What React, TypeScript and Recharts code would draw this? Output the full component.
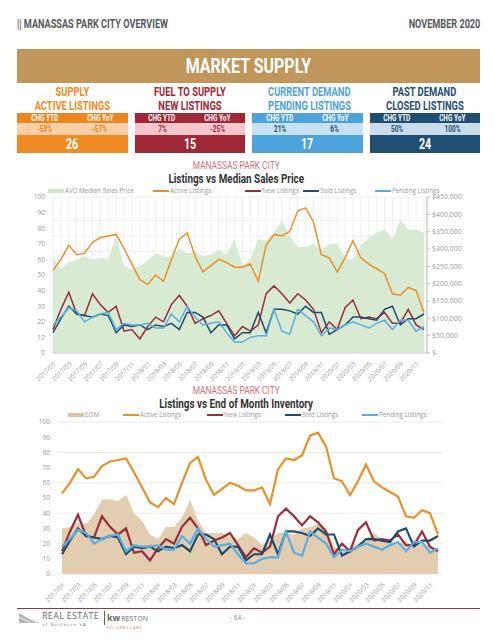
import { ComposedChart, Area, Line, XAxis, YAxis, CartesianGrid } from 'recharts';
import type { ReactNode } from 'react';

const months = [
  '2017/01', '2017/02', '2017/03', '2017/04', '2017/05', '2017/06', '2017/07', '2017/08', '2017/09', '2017/10', '2017/11', '2017/12',
  '2018/01', '2018/02', '2018/03', '2018/04', '2018/05', '2018/06', '2018/07', '2018/08', '2018/09', '2018/10', '2018/11', '2018/12',
  '2019/01', '2019/02', '2019/03', '2019/04', '2019/05', '2019/06', '2019/07', '2019/08', '2019/09', '2019/10', '2019/11', '2019/12',
  '2020/01', '2020/02', '2020/03', '2020/04', '2020/05', '2020/06', '2020/07', '2020/08', '2020/09', '2020/10', '2020/11', '2020/12',
];

const activeListings = [53, 60, 69, 63, 64, 71, 74, 75, 76, 67, 57, 47, 44, 50, 46, 60, 73, 77, 62, 52, 56, 60, 58, 55, 55, 57, 46, 69, 76, 75, 78, 91, 93, 84, 63, 61, 52, 61, 72, 61, 57, 54, 51, 38, 37, 42, 40, 26];
const newListings = [15, 28, 39, 25, 24, 38, 31, 26, 30, 14, 15, 9, 17, 23, 20, 31, 37, 30, 19, 22, 24, 27, 19, 11, 17, 14, 18, 38, 43, 38, 32, 38, 34, 28, 13, 20, 15, 29, 34, 22, 23, 22, 26, 19, 19, 28, 18, 15];
const soldListings = [13, 22, 30, 25, 24, 23, 25, 24, 13, 18, 17, 18, 15, 18, 17, 19, 15, 26, 26, 23, 13, 18, 18, 9, 13, 13, 26, 13, 28, 28, 27, 25, 30, 26, 26, 12, 15, 18, 23, 23, 22, 21, 28, 30, 18, 22, 22, 25];
const pendingListings = [18, 23, 29, 27, 20, 23, 25, 26, 15, 19, 18, 18, 19, 16, 16, 25, 20, 30, 23, 18, 19, 20, 13, 7, 7, 10, 11, 11, 28, 14, 12, 28, 24, 20, 11, 16, 15, 18, 20, 18, 16, 19, 21, 15, 21, 21, 14, 17];
const medianPrice = [
  275000, 243000, 261000, 270000, 279000, 270000, 275000, 270000, 338000, 252000, 239000, 252000,
  266000, 288000, 279000, 275000, 302000, 288000, 293000, 279000, 284000, 297000, 284000, 329000,
  252000, 270000, 329000, 324000, 347000, 383000, 338000, 306000, 306000, 315000, 297000, 315000,
  315000, 275000, 270000, 311000, 333000, 347000, 356000, 329000, 383000, 356000, 356000, 347000,
];
const eomInventory = [30, 31, 34, 33, 39, 49, 49, 48, 52, 40, 35, 26, 23, 31, 31, 37, 49, 35, 27, 27, 27, 25, 23, 27, 24, 19, 22, 27, 27, 26, 30, 31, 33, 30, 18, 16, 17, 20, 23, 27, 23, 21, 20, 22, 17, 21, 18, 16];

const leftTicks1 = [0, 5, 10, 15, 20, 25, 30, 35, 40, 45, 50, 55, 60, 65, 70, 75, 80, 85, 90, 95, 100];
const leftTicks2 = [0, 10, 20, 30, 40, 50, 60, 70, 80, 90, 100];
const priceTicks = [0, 50000, 100000, 150000, 200000, 250000, 300000, 350000, 400000, 450000];

const kpis = [
  { top: 'SUPPLY', bottom: 'ACTIVE LISTINGS', ytd: '-50%', yoy: '-57%', value: '26', title: '#ee8a1f', head: '#ec8420', light: '#fbcfa6', text: '#e8821e', big: '#ef8b22' },
  { top: 'FUEL TO SUPPLY', bottom: 'NEW LISTINGS', ytd: '7%', yoy: '-25%', value: '15', title: '#9e2836', head: '#9e2836', light: '#f3c6cc', text: '#9e2836', big: '#9e2836' },
  { top: 'CURRENT DEMAND', bottom: 'PENDING LISTINGS', ytd: '21%', yoy: '6%', value: '17', title: '#4fa3dc', head: '#4fa3dc', light: '#c6e1f4', text: '#1d4a6b', big: '#4fa3dc' },
  { top: 'PAST DEMAND', bottom: 'CLOSED LISTINGS', ytd: '50%', yoy: '100%', value: '24', title: '#1f4e73', head: '#1f4e73', light: '#cadcec', text: '#1f4e73', big: '#1f4e73' },
];

const COLORS = {
  active: '#e8912b',
  fresh: '#9b2d3a',
  sold: '#1f4d6b',
  pending: '#5aafe0',
  price: '#d8ead2',
  eom: '#e2cdb0',
};

const HEAD = 'Roboto, "Noto Sans", sans-serif';
const BODY = '"Open Sans", "Liberation Sans", sans-serif';

const priceData = months.map((m, i) => ({
  month: m,
  price: medianPrice[i],
  active: activeListings[i],
  fresh: newListings[i],
  sold: soldListings[i],
  pending: pendingListings[i],
}));

const eomData = months.map((m, i) => ({
  month: m,
  eom: eomInventory[i],
  active: activeListings[i],
  fresh: newListings[i],
  sold: soldListings[i],
  pending: pendingListings[i],
}));

const tickStyle = { fontSize: 6.5, fill: '#9a9a9a', fontFamily: BODY };

function money(v: number) {
  return v === 0 ? '$-' : '$' + v.toLocaleString('en-US');
}

// no condensed face installed, so squeeze Roboto horizontally
function Narrow({ children, origin = 'center', s = 0.76 }: { children: ReactNode; origin?: string; s?: number }) {
  return (
    <span style={{ display: 'inline-block', whiteSpace: 'nowrap', transform: `scaleX(${s})`, transformOrigin: origin }}>
      {children}
    </span>
  );
}

function LegendItem({ color, label, area, x }: { color: string; label: string; area?: boolean; x: number }) {
  return (
    <div style={{ position: 'absolute', left: x, top: 0, height: 8, display: 'flex', alignItems: 'center', whiteSpace: 'nowrap' }}>
      <div style={{ width: 16, height: area ? 3.5 : 1.6, background: color, marginRight: 1 }} />
      <span style={{ fontSize: 6.3, lineHeight: '8px', color: '#9a9a9a', fontFamily: BODY }}>{label}</span>
    </div>
  );
}

function ChartTitle({ top, sub }: { top: number; sub: string }) {
  return (
    <div style={{ position: 'absolute', left: 0, width: 472, top, textAlign: 'center', fontFamily: HEAD }}>
      <div style={{ fontSize: 11, color: '#d36f7c', lineHeight: '12px' }}>
        <Narrow>MANASSAS PARK CITY</Narrow>
      </div>
      <div style={{ fontSize: 13, color: '#333', fontWeight: 700, lineHeight: '13px' }}>
        <Narrow>{sub}</Narrow>
      </div>
    </div>
  );
}

function Kpi({ k, left }: { k: (typeof kpis)[number]; left: number }) {
  const w = 110.5;
  return (
    <div style={{ position: 'absolute', left, top: 84, width: w, fontFamily: HEAD, textAlign: 'center' }}>
      <div style={{ color: k.title, fontWeight: 700, fontSize: 13, lineHeight: '14px', paddingTop: 1 }}>
        <div><Narrow s={0.72}>{k.top}</Narrow></div>
        <div><Narrow s={0.72}>{k.bottom}</Narrow></div>
      </div>
      <div style={{ display: 'flex', background: k.head, color: '#fff', fontWeight: 700, fontSize: 8.5, height: 10, lineHeight: '10px' }}>
        <div style={{ flex: 1 }}><Narrow>CHG YTD</Narrow></div>
        <div style={{ flex: 1 }}><Narrow>CHG YoY</Narrow></div>
      </div>
      <div style={{ display: 'flex', background: k.light, color: k.text, fontWeight: 700, fontSize: 8.5, height: 12, lineHeight: '12px' }}>
        <div style={{ flex: 1 }}><Narrow>{k.ytd}</Narrow></div>
        <div style={{ flex: 1 }}><Narrow>{k.yoy}</Narrow></div>
      </div>
      <div style={{ background: k.big, color: '#fff', fontWeight: 700, fontSize: 14, height: 18, lineHeight: '18px' }}>
        <Narrow>{k.value}</Narrow>
      </div>
    </div>
  );
}

export default function App() {
  return (
    <div style={{ position: 'absolute', left: 0, top: 0, width: 495, height: 640, background: '#fff', overflow: 'hidden' }}>
      {/* page header */}
      <div style={{ position: 'absolute', left: 17, top: 17, fontFamily: HEAD, fontWeight: 700, fontSize: 12, color: '#58595b' }}>
        <Narrow origin="left">|| MANASSAS PARK CITY OVERVIEW</Narrow>
      </div>
      <div style={{ position: 'absolute', right: 15, top: 17, fontFamily: HEAD, fontWeight: 700, fontSize: 12, color: '#58595b' }}>
        <Narrow origin="right">NOVEMBER 2020</Narrow>
      </div>
      <div style={{ position: 'absolute', left: 17, top: 49, width: 463, height: 34, background: '#c0965a', color: '#fff', textAlign: 'center', fontFamily: HEAD, fontWeight: 700, fontSize: 20, lineHeight: '34px' }}>
        <Narrow s={0.8}>MARKET SUPPLY</Narrow>
      </div>

      {kpis.map((k, i) => (
        <Kpi key={k.top} k={k} left={17 + i * 117.5} />
      ))}

      {/* chart 1 */}
      <ChartTitle top={160} sub="Listings vs Median Sales Price" />
      <div style={{ position: 'absolute', left: 0, top: 187, width: 495, height: 8 }}>
        <LegendItem x={48} color="#cfe5c8" label="AVG Median Sales Price" area />
        <LegendItem x={153} color={COLORS.active} label="Active Listings" />
        <LegendItem x={245} color={COLORS.fresh} label="New Listings" />
        <LegendItem x={303} color={COLORS.sold} label="Sold Listings" />
        <LegendItem x={375} color={COLORS.pending} label="Pending Listings" />
      </div>
      <div style={{ position: 'absolute', left: 0, top: 155 }}>
        <ComposedChart width={495} height={230} data={priceData} margin={{ top: 42, right: 8, bottom: 0, left: 8 }}>
          <CartesianGrid yAxisId="left" stroke="#e4e4e4" strokeWidth={0.6} />
          <XAxis
            dataKey="month"
            interval={0}
            tickFormatter={(v: string, i: number) => (i % 2 === 0 ? v : '')}
            angle={-45}
            textAnchor="end"
            height={32}
            tick={tickStyle}
            tickLine={false}
            axisLine={{ stroke: '#d0d0d0' }}
            padding={{ left: 0, right: 3 }}
          />
          <YAxis
            yAxisId="left"
            domain={[0, 100]}
            ticks={leftTicks1}
            tickFormatter={(v: number) => (v % 10 === 0 ? String(v) : '')}
            width={45}
            tick={tickStyle}
            tickLine={false}
            axisLine={false}
          />
          <YAxis
            yAxisId="right"
            orientation="right"
            domain={[0, 450000]}
            ticks={priceTicks}
            tickFormatter={money}
            width={60}
            tick={{ ...tickStyle, fontSize: 7 }}
            tickSize={3}
            tickLine={{ stroke: '#bbb' }}
            axisLine={{ stroke: '#bbb' }}
          />
          <Area yAxisId="right" type="linear" dataKey="price" fill={COLORS.price} fillOpacity={1} stroke="none" isAnimationActive={false} />
          <Line yAxisId="left" type="linear" dataKey="active" stroke={COLORS.active} strokeWidth={1.5} dot={false} isAnimationActive={false} />
          <Line yAxisId="left" type="linear" dataKey="fresh" stroke={COLORS.fresh} strokeWidth={1.5} dot={false} isAnimationActive={false} />
          <Line yAxisId="left" type="linear" dataKey="sold" stroke={COLORS.sold} strokeWidth={1.5} dot={false} isAnimationActive={false} />
          <Line yAxisId="left" type="linear" dataKey="pending" stroke={COLORS.pending} strokeWidth={1.5} dot={false} isAnimationActive={false} />
        </ComposedChart>
      </div>

      {/* chart 2 */}
      <ChartTitle top={385} sub="Listings vs End of Month Inventory" />
      <div style={{ position: 'absolute', left: 0, top: 411, width: 495, height: 8 }}>
        <LegendItem x={68} color="#dcc4a2" label="EOM" area />
        <LegendItem x={123} color={COLORS.active} label="Active Listings" />
        <LegendItem x={207} color={COLORS.fresh} label="New Listings" />
        <LegendItem x={285} color={COLORS.sold} label="Sold Listings" />
        <LegendItem x={362} color={COLORS.pending} label="Pending Listings" />
      </div>
      <div style={{ position: 'absolute', left: 0, top: 380 }}>
        <ComposedChart width={495} height={228} data={eomData} margin={{ top: 42, right: 52, bottom: 0, left: 8 }}>
          <CartesianGrid vertical={false} stroke="#e2e2e2" strokeWidth={0.7} />
          <XAxis
            dataKey="month"
            interval={1}
            angle={-45}
            textAnchor="end"
            height={34}
            tick={tickStyle}
            tickLine={false}
            axisLine={false}
            padding={{ left: 4, right: 5 }}
          />
          <YAxis domain={[0, 100]} ticks={leftTicks2} width={50} tick={tickStyle} tickLine={false} axisLine={false} />
          <Area type="linear" dataKey="eom" fill={COLORS.eom} fillOpacity={1} stroke="none" isAnimationActive={false} />
          <Line type="linear" dataKey="active" stroke={COLORS.active} strokeWidth={2.2} dot={false} isAnimationActive={false} />
          <Line type="linear" dataKey="fresh" stroke={COLORS.fresh} strokeWidth={2.2} dot={false} isAnimationActive={false} />
          <Line type="linear" dataKey="sold" stroke={COLORS.sold} strokeWidth={2.2} dot={false} isAnimationActive={false} />
          <Line type="linear" dataKey="pending" stroke={COLORS.pending} strokeWidth={2.2} dot={false} isAnimationActive={false} />
        </ComposedChart>
      </div>

      {/* footer */}
      <div style={{ position: 'absolute', left: 17, top: 608, width: 463, height: 1, background: '#8e3a3a' }} />
      <svg style={{ position: 'absolute', left: 17, top: 611 }} width={24} height={14}>
        <polygon points="2,2 22,12 2,12" fill="#b5b5b5" />
        <line x1={6} y1={4} x2={20} y2={12} stroke="#fff" strokeWidth={0.8} />
        <line x1={2} y1={6} x2={14} y2={12} stroke="#fff" strokeWidth={0.8} />
      </svg>
      <div style={{ position: 'absolute', left: 42, top: 611, fontFamily: BODY, color: '#6a6a6a', lineHeight: '9px' }}>
        <div style={{ fontSize: 9, letterSpacing: 0.3 }}>REAL ESTATE</div>
        <div style={{ fontSize: 4, letterSpacing: 1.2 }}>of Northern VA</div>
      </div>
      <div style={{ position: 'absolute', left: 104, top: 611, width: 1, height: 14, background: '#b04a4a' }} />
      <div style={{ position: 'absolute', left: 107, top: 611, fontFamily: BODY, lineHeight: '9px' }}>
        <span style={{ fontSize: 9, fontWeight: 700, color: '#6a6a6a' }}>kw</span>
        <span style={{ fontSize: 7, color: '#6a6a6a', marginLeft: 1 }}>RESTON</span>
        <div style={{ fontSize: 3.5, color: '#c77', letterSpacing: 0.5 }}>KELLERWILLIAMS</div>
      </div>
      <div style={{ position: 'absolute', left: 230, top: 613, fontFamily: BODY, fontSize: 6.5, color: '#888' }}>- 64 -</div>
    </div>
  );
}
